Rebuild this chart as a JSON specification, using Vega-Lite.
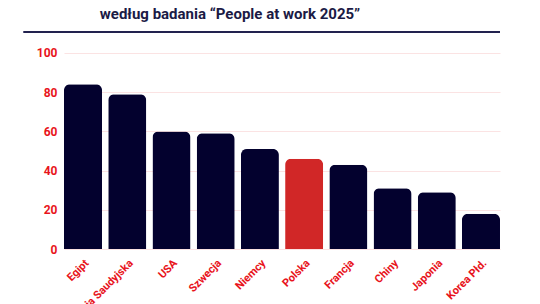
{
  "$schema": "https://vega.github.io/schema/vega-lite/v6.json",
  "autosize": "none",
  "width": 436,
  "height": 217,
  "padding": {"left": 64, "top": 32, "right": 40, "bottom": 55},
  "background": "white",
  "title": {
    "text": "według badania “People at work 2025”",
    "font": "Roboto",
    "fontSize": 15,
    "fontWeight": "bold",
    "color": "#1b1a45",
    "anchor": "middle",
    "dx": -52,
    "offset": 9
  },
  "config": {
    "view": {"stroke": null},
    "axis": {"labelFont": "Roboto", "labelFontWeight": "bold", "labelColor": "#e8141c"}
  },
  "data": {
    "values": [
      {"kraj": "Egipt", "wartosc": 84, "pl": "n"},
      {"kraj": "Arabia Saudyjska", "wartosc": 79, "pl": "n"},
      {"kraj": "USA", "wartosc": 60, "pl": "n"},
      {"kraj": "Szwecja", "wartosc": 59, "pl": "n"},
      {"kraj": "Niemcy", "wartosc": 51, "pl": "n"},
      {"kraj": "Polska", "wartosc": 46, "pl": "y"},
      {"kraj": "Francja", "wartosc": 43, "pl": "n"},
      {"kraj": "Chiny", "wartosc": 31, "pl": "n"},
      {"kraj": "Japonia", "wartosc": 29, "pl": "n"},
      {"kraj": "Korea Płd.", "wartosc": 18, "pl": "n"}
    ]
  },
  "resolve": {"scale": {"x": "independent"}, "axis": {"x": "independent"}},
  "layer": [
    {
      "mark": {"type": "bar", "cornerRadiusTopLeft": 6, "cornerRadiusTopRight": 6},
      "encoding": {
        "x": {
          "field": "kraj", "type": "nominal", "sort": null,
          "scale": {"paddingInner": 0.14, "paddingOuter": 0},
          "axis": {"title": null, "labelAngle": -45, "labelFontSize": 11, "ticks": false, "domain": false, "labelPadding": 8}
        },
        "y": {
          "field": "wartosc", "type": "quantitative",
          "scale": {"domain": [0, 110.7], "nice": false},
          "axis": {"title": null, "values": [0, 20, 40, 60, 80, 100], "labelFontSize": 12, "ticks": false, "tickSize": 0, "domain": false, "labelPadding": 7, "gridColor": "#fbe3e3", "gridWidth": 1}
        },
        "color": {
          "field": "pl", "type": "nominal", "legend": null,
          "scale": {"domain": ["n", "y"], "range": ["#03012e", "#d12727"]}
        }
      }
    },
    {
      "mark": {"type": "rule", "color": "#22224f", "strokeWidth": 2},
      "encoding": {
        "y": {"datum": 110.7},
        "x": {"datum": -0.092, "type": "quantitative", "scale": {"domain": [0, 1], "nice": false, "zero": false}, "axis": null},
        "x2": {"datum": 1}
      }
    }
  ]
}
